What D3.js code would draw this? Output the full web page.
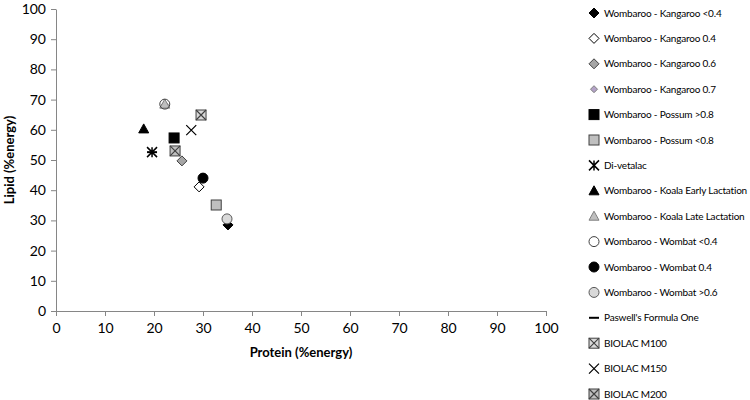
<!DOCTYPE html>
<html>
<head>
<meta charset="utf-8">
<script src="https://cdn.jsdelivr.net/npm/d3@7"></script>
<style>
  body { margin: 0; background: #fff; }
  text { font-family: Lato, "Liberation Sans", sans-serif; fill: #000; }
</style>
</head>
<body>
<svg id="chart"></svg>
<script>
// data
const seriesNames = [
  "Wombaroo - Kangaroo <0.4", "Wombaroo - Kangaroo 0.4", "Wombaroo - Kangaroo 0.6",
  "Wombaroo - Kangaroo 0.7", "Wombaroo - Possum >0.8", "Wombaroo - Possum <0.8",
  "Di-vetalac", "Wombaroo - Koala Early Lactation", "Wombaroo - Koala Late Lactation",
  "Wombaroo - Wombat <0.4", "Wombaroo - Wombat 0.4", "Wombaroo - Wombat >0.6",
  "Paswell's Formula One", "BIOLAC M100", "BIOLAC M150", "BIOLAC M200"
];
const protein = [35.1, 29.2, 25.7, 22.2, 24.1, 32.7, 19.6, 17.9, 22.2, 22.2, 30.0, 34.9, 19.6, 29.6, 27.6, 24.3];
const lipid   = [28.5, 41.1, 49.7, 68.3, 57.3, 35.1, 52.6, 60.3, 68.5, 68.5, 44.0, 30.5, 52.6, 64.9, 59.9, 53.0];
const xTicks = [0, 10, 20, 30, 40, 50, 60, 70, 80, 90, 100];
const yTicks = [0, 10, 20, 30, 40, 50, 60, 70, 80, 90, 100];

// marker style per series
const markers = [
  {shape: "diamond", fill: "#000", stroke: "#000"},
  {shape: "diamond", fill: "#fff", stroke: "#000"},
  {shape: "diamond", fill: "#a6a6a6", stroke: "#404040"},
  {shape: "diamond", fill: "#b3a2c7", stroke: "#7f7f7f", small: true},
  {shape: "square", fill: "#000", stroke: "#000"},
  {shape: "square", fill: "#bfbfbf", stroke: "#404040"},
  {shape: "star", fill: "none", stroke: "#000"},
  {shape: "triangle", fill: "#000", stroke: "#000"},
  {shape: "triangle", fill: "#bfbfbf", stroke: "#7f7f7f"},
  {shape: "circle", fill: "none", stroke: "#404040"},
  {shape: "circle", fill: "#000", stroke: "#000"},
  {shape: "circle", fill: "#d9d9d9", stroke: "#595959"},
  {shape: "dash", fill: "none", stroke: "#000"},
  {shape: "boxx", fill: "#d9d9d9", stroke: "#404040"},
  {shape: "x", fill: "none", stroke: "#000"},
  {shape: "boxx", fill: "#bfbfbf", stroke: "#404040"}
];

const W = 750, H = 400;
const margin = {top: 9, right: 204, bottom: 89, left: 56};
const width = W - margin.left - margin.right;
const height = H - margin.top - margin.bottom;

const svg = d3.select("#chart").attr("width", W).attr("height", H);
const chart = svg.append("g").attr("transform", `translate(${margin.left},${margin.top})`);

const xScale = d3.scaleLinear().domain([0, 100]).range([0, width]);
const yScale = d3.scaleLinear().domain([0, 100]).range([height, 0]);

// axes
const xAxis = chart.append("g")
  .attr("transform", `translate(0,${height})`)
  .call(d3.axisBottom(xScale).tickValues(xTicks).tickSize(5).tickSizeOuter(0).tickPadding(4));
const yAxis = chart.append("g")
  .call(d3.axisLeft(yScale).tickValues(yTicks).tickSize(5).tickSizeOuter(0).tickPadding(5));
[xAxis, yAxis].forEach(a => {
  a.select(".domain").attr("stroke", "#868686");
  a.selectAll(".tick line").attr("stroke", "#868686");
  a.selectAll(".tick text").style("font-size", "14px").style("font-family", "Lato, sans-serif");
});
xAxis.selectAll(".tick text").attr("dy", "0.9em");

chart.append("text")
  .attr("x", width / 2).attr("y", height + 46)
  .attr("text-anchor", "middle")
  .style("font-size", "13px").style("font-weight", "bold")
  .text("Protein (%energy)");
chart.append("text")
  .attr("transform", `translate(-42,${height / 2}) rotate(-90)`)
  .attr("text-anchor", "middle")
  .style("font-size", "13px").style("font-weight", "bold")
  .text("Lipid (%energy)");

function drawMarker(g, m) {
  const s = m.small ? 3.5 : 5;
  if (m.shape === "diamond") {
    g.append("path").attr("d", `M0,${-s}L${s},0L0,${s}L${-s},0Z`);
  } else if (m.shape === "square") {
    g.append("rect").attr("x", -s).attr("y", -s).attr("width", 2 * s).attr("height", 2 * s);
  } else if (m.shape === "triangle") {
    g.append("path").attr("d", `M0,${-s}L${s},${s * 0.8}L${-s},${s * 0.8}Z`);
  } else if (m.shape === "circle") {
    g.append("circle").attr("r", s);
  } else if (m.shape === "star") {
    g.append("path").attr("d", `M${-s},${-s}L${s},${s}M${-s},${s}L${s},${-s}M0,${-s}L0,${s}`).attr("stroke-width", 1.5);
  } else if (m.shape === "dash") {
    g.append("path").attr("d", `M${-s},0L${s},0`).attr("stroke-width", 2);
  } else if (m.shape === "x") {
    g.append("path").attr("d", `M${-s},${-s}L${s},${s}M${-s},${s}L${s},${-s}`).attr("stroke-width", 1.2);
  } else if (m.shape === "boxx") {
    g.append("rect").attr("x", -s).attr("y", -s).attr("width", 2 * s).attr("height", 2 * s);
    g.append("path").attr("d", `M${-s},${-s}L${s},${s}M${-s},${s}L${s},${-s}`).attr("stroke-width", 1.2);
  }
  g.selectAll("*").attr("fill", m.fill).attr("stroke", m.stroke);
}

// points
const pts = seriesNames.map((name, i) => ({name, x: protein[i], y: lipid[i], m: markers[i]}));
chart.append("g").selectAll("g")
  .data(pts)
  .enter()
  .append("g")
    .attr("transform", d => `translate(${xScale(d.x)},${yScale(d.y)})`)
    .each(function(d) { drawMarker(d3.select(this), d.m); });

// legend
const legend = svg.append("g").attr("transform", "translate(594,13)");
const rows = legend.selectAll("g")
  .data(pts)
  .enter()
  .append("g")
    .attr("transform", (d, i) => `translate(0,${i * 25.4})`);
rows.each(function(d) { drawMarker(d3.select(this), d.m); });
rows.append("text")
  .attr("x", 10).attr("y", 0).attr("dy", "0.35em")
  .style("font-size", "10px")
  .style("letter-spacing", "-0.2px")
  .text(d => d.name);
</script>
</body>
</html>
